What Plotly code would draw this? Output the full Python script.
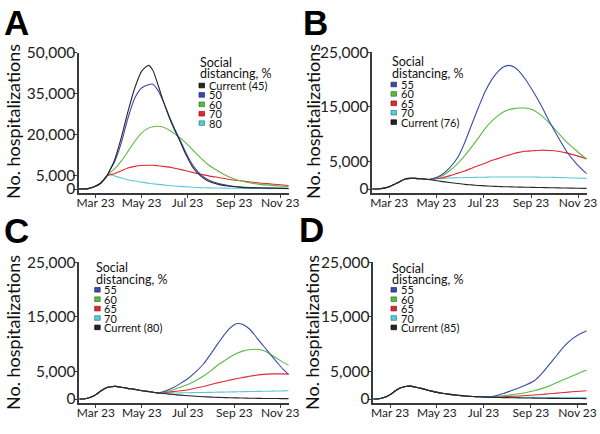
import pandas as pd
import plotly.graph_objects as go

# Day offsets from 1 Mar 2020; values in thousands of hospitalizations
START = pd.Timestamp("2020-03-01")

A_DAYS = [0, 12, 21, 29, 37, 41, 47, 56, 65, 74, 83, 92, 98, 105, 112, 120, 127, 134,
          142, 152, 162, 172, 185, 200, 215, 240, 278]
A_CUR45 = [0, 0.15, 0.9, 2.2, 4.8, 7.0, 10.5, 18.7, 28.4, 37.0, 43.1, 45.3, 43.5, 38.0,
           32.0, 26.0, 21.5, 17.5, 12.5, 7.5, 4.6, 2.8, 1.7, 1.0, 0.6, 0.35, 0.2]
A_50 = [0, 0.15, 0.9, 2.2, 4.8, 6.9, 9.8, 16.8, 26.0, 33.3, 37.0, 38.2, 38.4, 36.0,
        32.0, 26.5, 22.0, 18.0, 13.2, 8.3, 5.2, 3.3, 2.0, 1.2, 0.75, 0.45, 0.25]
A_60 = [0, 0.15, 0.9, 2.2, 4.8, 6.0, 7.3, 10.2, 13.8, 17.5, 20.5, 22.3, 22.8, 23.0,
        22.6, 21.5, 20.2, 18.8, 16.8, 14.0, 11.2, 8.8, 6.5, 4.3, 2.9, 1.7, 0.9]
A_70 = [0, 0.15, 0.9, 2.2, 4.8, 5.2, 5.6, 6.7, 7.7, 8.3, 8.6, 8.7, 8.7, 8.5,
        8.3, 8.0, 7.6, 7.2, 6.7, 6.0, 5.4, 4.8, 4.2, 3.5, 3.0, 2.2, 1.3]
A_80 = [0, 0.15, 0.9, 2.2, 4.8, 5.3, 4.8, 4.0, 3.4, 2.9, 2.5, 2.1, 1.9, 1.7,
        1.5, 1.3, 1.1, 0.95, 0.8, 0.65, 0.5, 0.42, 0.35, 0.3, 0.25, 0.2, 0.15]

B_DAYS = [0, 10, 17, 22, 28, 35, 42, 49, 56, 63, 73, 81, 89, 100, 111, 120, 129, 138,
          146, 155, 164, 170, 177, 184, 190, 198, 208, 219, 230, 241, 252, 265, 278]
B_55 = [0, 0.05, 0.2, 0.4, 0.8, 1.3, 1.8, 1.95, 1.95, 1.88, 1.75,
        2.0, 2.5, 3.8, 5.8, 8.5, 11.8, 15.0, 17.7, 20.0, 21.6, 22.3, 22.6, 22.3,
        21.6, 20.2, 18.0, 15.3, 12.3, 9.5, 6.9, 4.6, 2.8]
B_60 = [0, 0.05, 0.2, 0.4, 0.8, 1.3, 1.8, 1.95, 1.95, 1.88, 1.75,
        1.95, 2.3, 3.3, 4.7, 6.1, 7.7, 9.4, 11.0, 12.4, 13.5, 14.1, 14.5, 14.7,
        14.8, 14.8, 14.5, 13.5, 12.0, 10.3, 8.6, 7.0, 5.5]
B_65 = [0, 0.05, 0.2, 0.4, 0.8, 1.3, 1.8, 1.95, 1.95, 1.88, 1.75,
        1.85, 2.0, 2.4, 2.9, 3.3, 3.8, 4.3, 4.7, 5.2, 5.6, 5.9, 6.2, 6.5,
        6.7, 6.9, 7.0, 7.1, 7.05, 6.9, 6.6, 6.1, 5.5]
B_70 = [0, 0.05, 0.2, 0.4, 0.8, 1.3, 1.8, 1.95, 1.95, 1.88, 1.75,
        1.85, 1.9, 2.0, 2.05, 2.1, 2.1, 2.15, 2.15, 2.2, 2.2, 2.2, 2.2, 2.2,
        2.2, 2.2, 2.2, 2.15, 2.15, 2.1, 2.05, 2.0, 1.95]
B_CUR76 = [0, 0.05, 0.2, 0.4, 0.8, 1.3, 1.8, 1.95, 1.95, 1.88, 1.75,
           1.55, 1.4, 1.2, 1.0, 0.85, 0.75, 0.65, 0.58, 0.5, 0.45, 0.42, 0.4, 0.37,
           0.35, 0.32, 0.3, 0.27, 0.24, 0.2, 0.17, 0.14, 0.12]

C_DAYS = [0, 8, 15, 22, 29, 35, 42, 48, 56, 64, 72, 80, 90, 98, 105, 115, 125, 135,
          145, 155, 165, 175, 185, 195, 203, 210, 218, 226, 233, 241, 249, 256, 264, 271, 278]
C_55 = [0, 0.05, 0.3, 0.8, 1.5, 2.0, 2.25, 2.3, 2.15, 1.95, 1.8, 1.6, 1.4, 1.25, 1.1,
        1.5, 2.1, 2.9, 3.8, 5.0, 6.4, 8.3, 10.3, 12.2, 13.3, 13.8, 13.6, 12.8, 11.7,
        10.3, 9.0, 7.8, 6.5, 5.4, 4.5]
C_60 = [0, 0.05, 0.3, 0.8, 1.5, 2.0, 2.25, 2.3, 2.15, 1.95, 1.8, 1.6, 1.4, 1.25, 1.1,
        1.35, 1.7, 2.2, 2.7, 3.4, 4.2, 5.2, 6.3, 7.2, 7.9, 8.4, 8.8, 9.0, 9.1,
        9.0, 8.6, 8.0, 7.3, 6.7, 6.2]
C_65 = [0, 0.05, 0.3, 0.8, 1.5, 2.0, 2.25, 2.3, 2.15, 1.95, 1.8, 1.6, 1.4, 1.25, 1.1,
        1.2, 1.35, 1.5, 1.7, 2.0, 2.3, 2.65, 3.0, 3.3, 3.55, 3.75, 3.95, 4.15, 4.3,
        4.45, 4.55, 4.6, 4.6, 4.6, 4.55]
C_70 = [0, 0.05, 0.3, 0.8, 1.5, 2.0, 2.25, 2.3, 2.15, 1.95, 1.8, 1.6, 1.4, 1.25, 1.1,
        1.1, 1.1, 1.12, 1.15, 1.18, 1.2, 1.22, 1.25, 1.28, 1.3, 1.32, 1.34, 1.36, 1.38,
        1.4, 1.42, 1.44, 1.46, 1.48, 1.5]
C_CUR80 = [0, 0.05, 0.3, 0.8, 1.5, 2.0, 2.25, 2.3, 2.15, 1.95, 1.8, 1.6, 1.4, 1.25, 1.1,
           0.95, 0.82, 0.7, 0.6, 0.5, 0.42, 0.35, 0.3, 0.25, 0.22, 0.2, 0.17, 0.15, 0.13,
           0.11, 0.1, 0.09, 0.08, 0.07, 0.06]

D_DAYS = [0, 8, 15, 22, 29, 35, 42, 48, 56, 64, 72, 80, 90, 100, 110, 120, 130, 140,
          150, 160, 170, 180, 190, 200, 210, 220, 230, 240, 250, 260, 270, 279]
D_55 = [0, 0.05, 0.3, 0.8, 1.5, 2.0, 2.3, 2.35, 2.15, 1.9, 1.6, 1.3, 1.05, 0.85, 0.68,
        0.55, 0.46, 0.4, 0.35,
        0.6, 1.0, 1.5, 2.0, 2.6, 3.3, 4.6, 6.3, 8.0, 9.7, 11.0, 11.9, 12.5]
D_60 = [0, 0.05, 0.3, 0.8, 1.5, 2.0, 2.3, 2.35, 2.15, 1.9, 1.6, 1.3, 1.05, 0.85, 0.68,
        0.55, 0.46, 0.4, 0.35,
        0.45, 0.6, 0.75, 0.95, 1.2, 1.5, 1.9, 2.4, 3.0, 3.6, 4.2, 4.8, 5.3]
D_65 = [0, 0.05, 0.3, 0.8, 1.5, 2.0, 2.3, 2.35, 2.15, 1.9, 1.6, 1.3, 1.05, 0.85, 0.68,
        0.55, 0.46, 0.4, 0.35,
        0.38, 0.42, 0.48, 0.55, 0.63, 0.72, 0.83, 0.95, 1.07, 1.2, 1.32, 1.43, 1.5]
D_70 = [0, 0.05, 0.3, 0.8, 1.5, 2.0, 2.3, 2.35, 2.15, 1.9, 1.6, 1.3, 1.05, 0.85, 0.68,
        0.55, 0.46, 0.4, 0.35,
        0.33, 0.32, 0.31, 0.3, 0.3, 0.29, 0.29, 0.28, 0.28, 0.27, 0.27, 0.26, 0.26]
D_CUR85 = [0, 0.05, 0.3, 0.8, 1.5, 2.0, 2.3, 2.35, 2.15, 1.9, 1.6, 1.3, 1.05, 0.85, 0.68,
           0.55, 0.46, 0.4, 0.35,
           0.3, 0.26, 0.23, 0.2, 0.18, 0.16, 0.14, 0.12, 0.11, 0.1, 0.09, 0.08, 0.07]

X_TICKS = ["2020-03-23", "2020-05-23", "2020-07-23", "2020-09-23", "2020-11-23"]
X_TICK_TEXT = ["Mar 23", "May 23", "Jul 23", "Sep 23", "Nov 23"]
X_RANGE = ["2020-03-01", "2020-12-05"]
Y_TICKS_A = [0, 5000, 20000, 35000, 50000]
Y_TICKS_BCD = [0, 5000, 15000, 25000]

COLORS = {
    "black": "#262626",
    "blue": "#3d4aa8",
    "green": "#58bb45",
    "red": "#e2282e",
    "cyan": "#5cc9d8",
}
EDGE = {"black": "#000000", "blue": "#1f2a70", "green": "#2f7a22",
        "red": "#8e1013", "cyan": "#2a7f8c"}

W, H = 600, 434
FONT = "Lato, 'Open Sans', sans-serif"
AXIS_COLOR = "#3a3a3a"


def px(x):
    return x / W


def py(y):
    return 1 - y / H


def to_dates(days):
    return [START + pd.Timedelta(days=d) for d in days]


# panel geometry in pixels: axis left/right, y of top tick, y of x-axis line, y of zero
PANELS = [
    dict(letter="A", days=A_DAYS, xl=79, xr=289.3, ytop=52.5, ybot=193, yzero=189,
         ymax=50000, yticks=Y_TICKS_A,
         series=[("80", A_80, "cyan"), ("70", A_70, "red"), ("60", A_60, "green"),
                 ("50", A_50, "blue"), ("Current (45)", A_CUR45, "black")],
         legend_order=["Current (45)", "50", "60", "70", "80"],
         leg_x=199, leg_y0=85.5, leg_t1=62.3, leg_t2=73.5,
         letter_xy=(16.5, 22.5), title_xy=(13, 122)),
    dict(letter="B", days=B_DAYS, xl=372.3, xr=587.3, ytop=52.3, ybot=193.3, yzero=189,
         ymax=25000, yticks=Y_TICKS_BCD,
         series=[("70", B_70, "cyan"), ("65", B_65, "red"), ("60", B_60, "green"),
                 ("55", B_55, "blue"), ("Current (76)", B_CUR76, "black")],
         legend_order=["55", "60", "65", "70", "Current (76)"],
         leg_x=391, leg_y0=84.5, leg_t1=62, leg_t2=73.3,
         letter_xy=(315, 22.5), title_xy=(313, 121)),
    dict(letter="C", days=C_DAYS, xl=79.3, xr=289.3, ytop=262.3, ybot=403, yzero=399,
         ymax=25000, yticks=Y_TICKS_BCD,
         series=[("70", C_70, "cyan"), ("65", C_65, "red"), ("60", C_60, "green"),
                 ("55", C_55, "blue"), ("Current (80)", C_CUR80, "black")],
         legend_order=["55", "60", "65", "70", "Current (80)"],
         leg_x=94.7, leg_y0=289.8, leg_t1=267.5, leg_t2=279,
         letter_xy=(16, 230), title_xy=(13, 333)),
    dict(letter="D", days=D_DAYS, xl=373.3, xr=586.7, ytop=262.3, ybot=403, yzero=399,
         ymax=25000, yticks=Y_TICKS_BCD,
         series=[("70", D_70, "cyan"), ("65", D_65, "red"), ("60", D_60, "green"),
                 ("55", D_55, "blue"), ("Current (85)", D_CUR85, "black")],
         legend_order=["55", "60", "65", "70", "Current (85)"],
         leg_x=391, leg_y0=289.8, leg_t1=268, leg_t2=279,
         letter_xy=(311, 229.5), title_xy=(312, 333)),
]

fig = go.Figure()
shapes = []
annotations = []
LEG_STEP = 9.4

for i, p in enumerate(PANELS, start=1):
    suffix = "" if i == 1 else str(i)
    xname, yname = "x" + suffix, "y" + suffix
    dates = to_dates(p["days"])
    colors_by_name = {}
    for name, vals, ckey in p["series"]:
        colors_by_name[name] = ckey
        fig.add_trace(go.Scatter(
            x=dates, y=[v * 1000 for v in vals],
            mode="lines", name=name, showlegend=False,
            line={"color": COLORS[ckey], "width": 1.1, "shape": "spline", "smoothing": 0.6},
            xaxis=xname, yaxis=yname,
        ))

    # y range so that top tick sits at ytop and the x-axis line below zero
    scale = p["ymax"] / (p["yzero"] - p["ytop"])
    ylow = -(p["ybot"] - p["yzero"]) * scale

    fig.layout["xaxis" + suffix] = dict(
        domain=[px(p["xl"]), px(p["xr"])], anchor=yname, range=X_RANGE, type="date",
        tickvals=X_TICKS, ticktext=X_TICK_TEXT, showgrid=False, zeroline=False,
        showline=True, linecolor=AXIS_COLOR, linewidth=1.5, automargin=False,
        ticks="outside", ticklen=3, tickwidth=1.2, tickcolor=AXIS_COLOR,
        ticklabelstandoff=-5,
        tickfont={"family": FONT, "size": 12, "color": "#222"},
    )
    fig.layout["yaxis" + suffix] = dict(
        domain=[py(p["ybot"]), py(p["ytop"])], anchor=xname, range=[ylow, p["ymax"]],
        tickvals=p["yticks"], tickformat=",", showgrid=False, zeroline=False,
        showline=True, linecolor=AXIS_COLOR, linewidth=1.5, automargin=False,
        ticks="outside", ticklen=4, tickwidth=1.2, tickcolor=AXIS_COLOR,
        ticklabelstandoff=-5,
        tickfont={"family": FONT, "size": 15.5, "color": "#222"},
    )

    # panel letter and y title
    lx, ly = p["letter_xy"]
    annotations.append(dict(
        text="<b>%s</b>" % p["letter"], x=px(lx), y=py(ly), xref="paper", yref="paper",
        xanchor="center", yanchor="middle", showarrow=False,
        font={"family": "Liberation Sans, Arial, sans-serif", "size": 35, "color": "#000"},
    ))
    tx, ty = p["title_xy"]
    annotations.append(dict(
        text="No. hospitalizations", x=px(tx), y=py(ty), xref="paper", yref="paper",
        xanchor="center", yanchor="middle", textangle=-90, showarrow=False,
        font={"family": FONT, "size": 18, "color": "#111"},
    ))

    # hand-built legend (tight spacing like the original)
    for t, yy in (("Social", p["leg_t1"]), ("distancing, %", p["leg_t2"])):
        annotations.append(dict(
            text=t, x=px(p["leg_x"] - 1), y=py(yy), xref="paper", yref="paper",
            xanchor="left", yanchor="middle", showarrow=False,
            font={"family": FONT, "size": 12.5, "color": "#111"},
        ))
    for k, name in enumerate(p["legend_order"]):
        yy = p["leg_y0"] + k * LEG_STEP
        ckey = colors_by_name[name]
        shapes.append(dict(
            type="rect", xref="paper", yref="paper",
            x0=px(p["leg_x"]), x1=px(p["leg_x"] + 5.5),
            y0=py(yy + 2.3), y1=py(yy - 2.3),
            fillcolor=COLORS[ckey], line={"color": EDGE[ckey], "width": 0.7},
        ))
        annotations.append(dict(
            text=name, x=px(p["leg_x"] + 7.5), y=py(yy), xref="paper", yref="paper",
            xanchor="left", yanchor="middle", showarrow=False,
            font={"family": FONT, "size": 11, "color": "#111"},
        ))

fig.update_layout(
    width=W, height=H,
    margin={"l": 0, "r": 0, "t": 0, "b": 0},
    paper_bgcolor="white", plot_bgcolor="white",
    showlegend=False,
    shapes=shapes, annotations=annotations,
)

# the page body has a default 8px margin; drop it so the figure fills the window
fig.write_html("out.html", config={"displayModeBar": False},
               post_script="document.body.style.margin = '0';")
